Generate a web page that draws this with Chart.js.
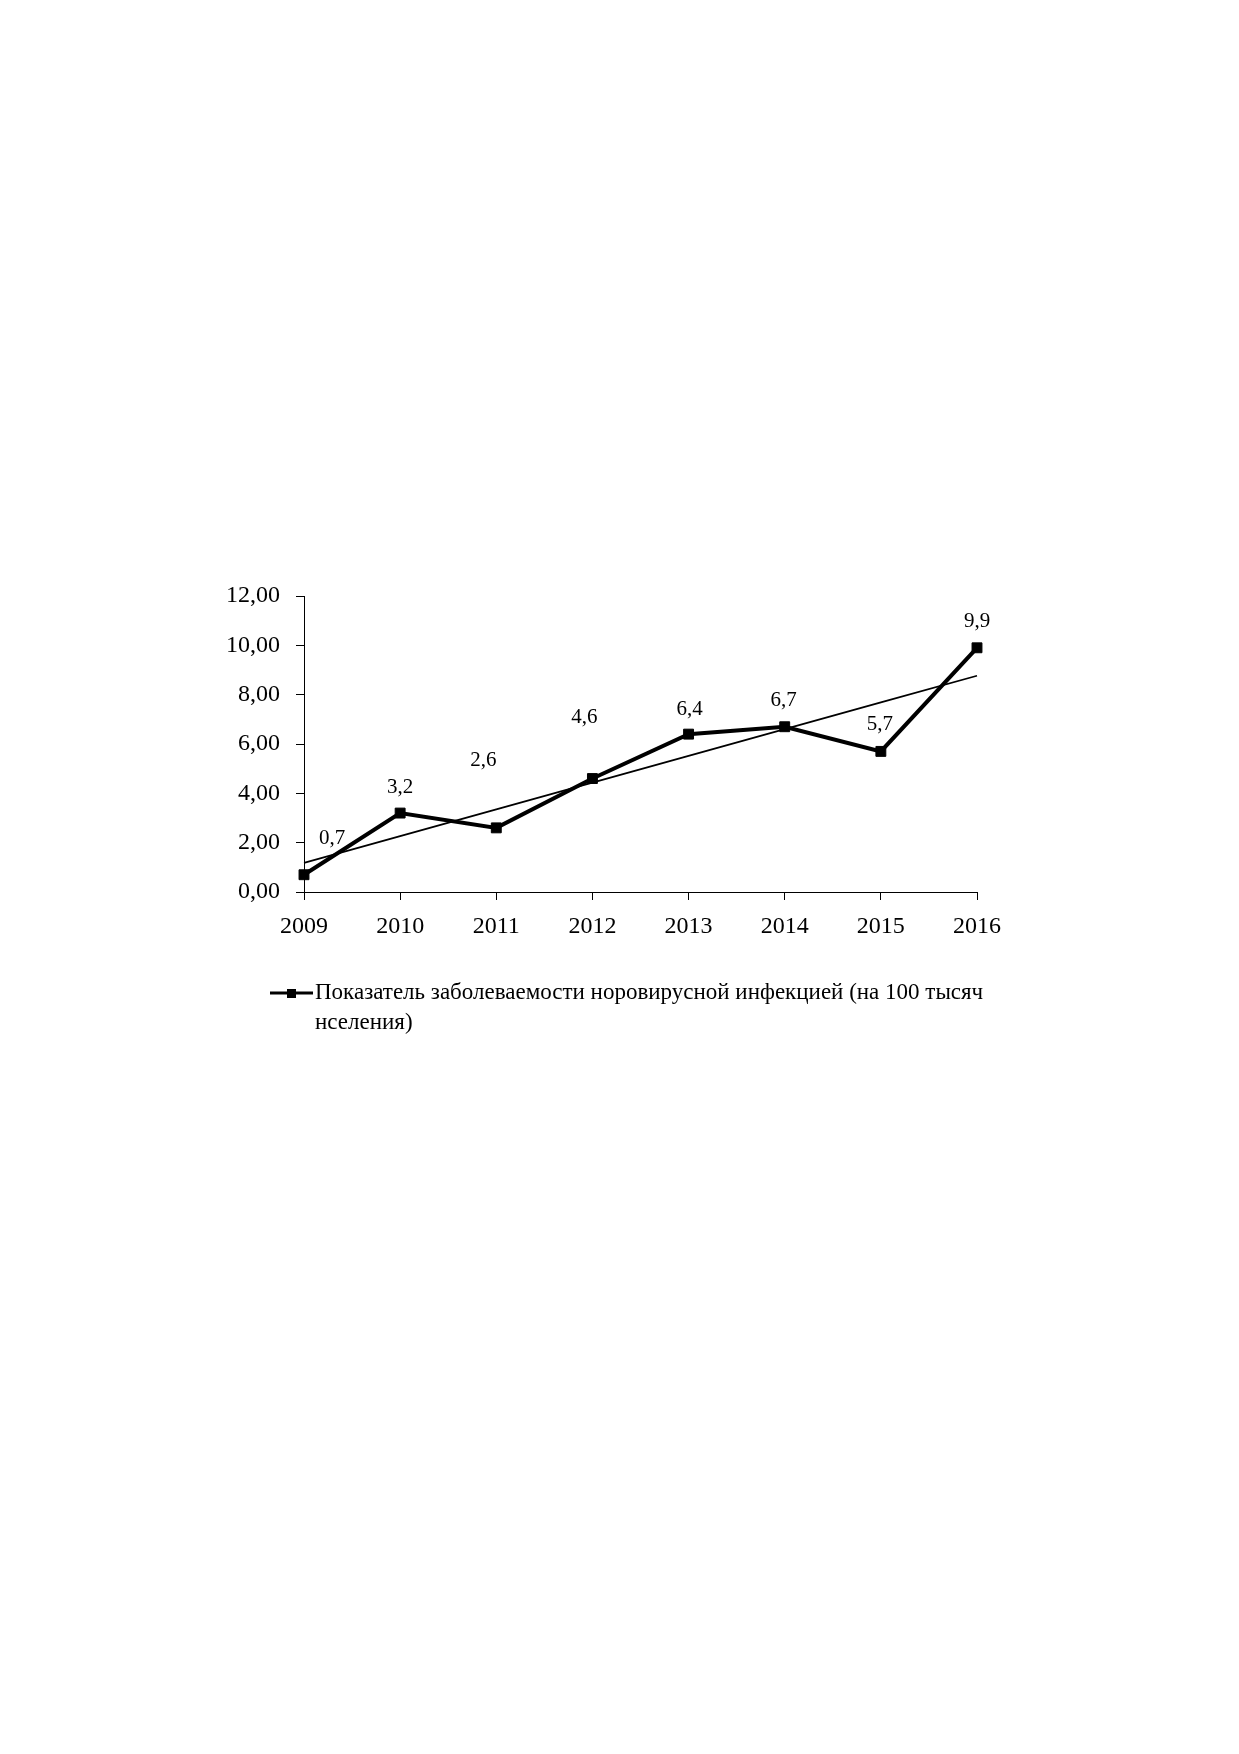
<!DOCTYPE html>
<html>
<head>
<meta charset="utf-8">
<script src="https://cdn.jsdelivr.net/npm/chart.js@4.4.1/dist/chart.umd.min.js"></script>
<style>
  html, body { margin: 0; padding: 0; background: #fff; }
  #chart { display: block; }
</style>
</head>
<body>
<canvas id="chart" width="1239" height="1754"></canvas>
<script>
// Data
const years  = ["2009", "2010", "2011", "2012", "2013", "2014", "2015", "2016"];
const values = [0.7, 3.2, 2.6, 4.6, 6.4, 6.7, 5.7, 9.9];
const yTicks = [0, 2, 4, 6, 8, 10, 12];
const seriesName = "Показатель заболеваемости норовирусной инфекцией (на 100 тысяч нселения)";

// label nudges in px (the original labels were moved by hand)
const labelShift = [[28, -36], [0, -26], [-13, -67], [-8, -61], [1, -25], [-1, -26], [-1, -27], [0, -26]];

// linear trend, like the spreadsheet's trendline
function linearTrend(ys) {
  const n = ys.length;
  const mx = (n - 1) / 2;
  const my = ys.reduce((a, b) => a + b, 0) / n;
  let sxy = 0, sxx = 0;
  ys.forEach((y, i) => { sxy += (i - mx) * (y - my); sxx += (i - mx) * (i - mx); });
  const k = sxy / sxx;
  return ys.map((_, i) => my + k * (i - mx));
}
const trend = linearTrend(values);

const serif = "'Liberation Serif', 'Times New Roman', serif";
const comma = (v, d) => v.toFixed(d).replace(".", ",");

const pointLabels = {
  id: "pointLabels",
  afterDatasetsDraw(chart) {
    const ctx = chart.ctx;
    const meta = chart.getDatasetMeta(0);
    ctx.save();
    ctx.font = "21px " + serif;
    ctx.fillStyle = "#000";
    ctx.textAlign = "center";
    ctx.textBaseline = "middle";
    meta.data.forEach((pt, i) => {
      const s = labelShift[i] || [0, -26];
      ctx.fillText(comma(values[i], 1), pt.x + s[0], pt.y + s[1]);
    });
    ctx.restore();
  }
};

const bottomLegend = {
  id: "bottomLegend",
  afterDraw(chart) {
    const ctx = chart.ctx;
    const a = chart.chartArea;
    const x0 = a.left - 34, y0 = a.bottom + 101;
    ctx.save();
    ctx.strokeStyle = "#000";
    ctx.lineWidth = 3;
    ctx.beginPath();
    ctx.moveTo(x0, y0);
    ctx.lineTo(x0 + 43, y0);
    ctx.stroke();
    ctx.fillStyle = "#000";
    ctx.fillRect(x0 + 17, y0 - 4, 9, 9);

    ctx.font = "23px " + serif;
    ctx.textBaseline = "middle";
    ctx.textAlign = "left";
    const maxW = 690;
    const words = seriesName.split(" ");
    const lines = [];
    let cur = "";
    words.forEach(w => {
      const t = cur ? cur + " " + w : w;
      if (ctx.measureText(t).width > maxW && cur) { lines.push(cur); cur = w; }
      else cur = t;
    });
    if (cur) lines.push(cur);
    lines.forEach((ln, i) => ctx.fillText(ln, x0 + 45, y0 + i * 30));
    ctx.restore();
  }
};

new Chart(document.getElementById("chart"), {
  type: "line",
  data: {
    labels: years,
    datasets: [
      {
        label: seriesName,
        data: values,
        borderColor: "#000",
        backgroundColor: "#000",
        borderWidth: 4,
        pointStyle: "rect",
        pointRadius: 7,
        pointBorderWidth: 1,
        pointBackgroundColor: "#000",
        pointBorderColor: "#000",
        tension: 0
      },
      {
        label: "Линейная",
        data: trend,
        borderColor: "#000",
        borderWidth: 1.8,
        pointRadius: 0,
        tension: 0
      }
    ]
  },
  options: {
    responsive: false,
    animation: false,
    devicePixelRatio: 1,
    layout: { padding: { left: 150, right: 262, top: 596, bottom: 802 } },
    plugins: { legend: { display: false }, tooltip: { enabled: false } },
    scales: {
      x: {
        type: "category",
        offset: false,
        afterFit: s => { s.height = 60; },
        grid: { drawOnChartArea: false, drawTicks: true, tickLength: 8, color: "#000" },
        border: { display: true, color: "#000", width: 1 },
        ticks: { color: "#000", font: { family: serif, size: 24 }, padding: 12, maxRotation: 0 }
      },
      y: {
        min: yTicks[0],
        max: yTicks[yTicks.length - 1],
        afterFit: s => { s.width = 154; },
        afterBuildTicks: s => { s.ticks = yTicks.map(v => ({ value: v })); },
        grid: { drawOnChartArea: false, drawTicks: true, tickLength: 8, color: "#000" },
        border: { display: true, color: "#000", width: 1 },
        ticks: { color: "#000", font: { family: serif, size: 24 }, padding: 16, callback: v => comma(v, 2) }
      }
    }
  },
  plugins: [pointLabels, bottomLegend]
});
</script>
</body>
</html>
